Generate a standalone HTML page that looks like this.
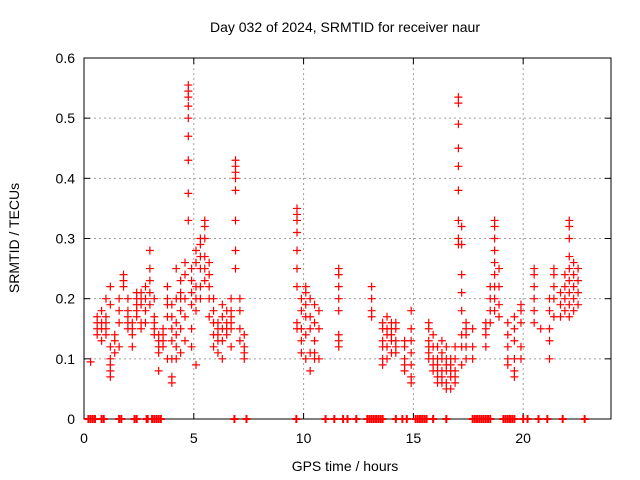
<!DOCTYPE html>
<html><head><meta charset="utf-8"><style>
body{margin:0;background:#fff;}
svg{display:block;font-family:"Liberation Sans",sans-serif;}
</style></head><body>
<svg id="chart" width="640" height="480">
<rect width="640" height="480" fill="#fff"/>
<text x="345" y="32" text-anchor="middle" font-size="14">Day 032 of 2024, SRMTID for receiver naur</text>
<g id="grid"></g>
<g id="axes"></g>
<g id="zeros"></g>
<g id="pts"></g>
<text x="345" y="471" text-anchor="middle" font-size="14">GPS time / hours</text>
<text transform="translate(19,238) rotate(-90)" text-anchor="middle" font-size="14">SRMTID / TECUs</text>
</svg>
<script>
const xTicks=[0,5,10,15,20];
const yTicks=[0,0.1,0.2,0.3,0.4,0.5,0.6];
const yTickLabels=["0","0.1","0.2","0.3","0.4","0.5","0.6"];
const clusterTimes=[0.3,0.6,0.8,1.0,1.2,1.4,1.6,1.8,2.0,2.2,2.4,2.6,2.8,3.0,3.2,3.4,3.6,3.8,4.0,4.2,4.4,4.6,4.75,4.9,5.1,5.3,5.5,5.7,5.9,6.1,6.3,6.5,6.7,6.9,7.1,7.3,9.7,9.9,10.1,10.3,10.5,10.7,11.6,13.1,13.6,13.8,14.0,14.2,14.6,14.9,15.7,15.9,16.1,16.3,16.5,16.7,16.9,17.05,17.2,17.4,17.7,18.3,18.5,18.7,18.9,19.3,19.6,19.9,20.5,20.8,21.2,21.4,21.7,21.9,22.1,22.3,22.5];
const clusterValues=[
[0.095],[0.15,0.16,0.17,0.14],[0.18,0.16,0.15,0.13],[0.17,0.2,0.15,0.14,0.16],[0.22,0.19,0.1,0.09,0.08,0.07,0.12],[0.13,0.11,0.14],[0.2,0.18,0.16,0.12],[0.23,0.24,0.22],[0.15,0.16,0.17,0.18,0.2],[0.14,0.15,0.16,0.12],[0.18,0.19,0.2,0.21,0.17],[0.21,0.2,0.19,0.16,0.15],[0.22,0.2,0.18,0.16],[0.28,0.25,0.23,0.21,0.19],[0.17,0.15,0.14,0.16,0.2],[0.14,0.13,0.12,0.11,0.08],[0.12,0.13,0.15,0.14],[0.2,0.22,0.19,0.17,0.1],[0.19,0.17,0.15,0.13,0.07,0.06,0.1],[0.25,0.2,0.16,0.14,0.12,0.1],[0.23,0.21,0.2,0.18,0.15,0.11],[0.26,0.24,0.2,0.17,0.13],[0.555,0.545,0.535,0.52,0.5,0.47,0.43,0.375,0.33],[0.25,0.23,0.21,0.19,0.15,0.12],[0.28,0.26,0.22,0.2,0.18,0.09],[0.3,0.29,0.27,0.25,0.22,0.2],[0.33,0.32,0.3,0.27,0.25,0.23],[0.26,0.24,0.22,0.2,0.17],[0.2,0.18,0.16,0.14,0.12],[0.16,0.15,0.14,0.13,0.11],[0.19,0.17,0.15,0.13,0.1],[0.18,0.16,0.15,0.14],[0.2,0.18,0.17,0.16,0.15,0.12],[0.43,0.42,0.41,0.4,0.38,0.33,0.28,0.25],[0.2,0.18,0.15,0.13],[0.14,0.12,0.11,0.1],
[0.35,0.34,0.33,0.31,0.28,0.25,0.22,0.16,0.15],[0.2,0.18,0.15,0.13,0.11],[0.22,0.21,0.19,0.17,0.14,0.1],[0.2,0.17,0.15,0.11,0.08],[0.19,0.16,0.13,0.11,0.1],[0.18,0.15,0.1],[0.25,0.24,0.22,0.2,0.18,0.14,0.13,0.12],[0.22,0.2,0.18,0.17],[0.16,0.15,0.13,0.12,0.1,0.09],[0.17,0.15,0.14,0.12,0.1],[0.16,0.15,0.14,0.13,0.11],[0.16,0.15,0.13,0.12,0.11],[0.13,0.12,0.1,0.09,0.08],[0.18,0.15,0.13,0.11,0.09,0.07,0.06],[0.16,0.15,0.13,0.12,0.11,0.1],[0.14,0.12,0.1,0.09,0.08],[0.12,0.1,0.09,0.08,0.07,0.06],[0.13,0.11,0.1,0.08,0.07,0.06],[0.12,0.1,0.09,0.08,0.06,0.05],[0.1,0.09,0.08,0.07,0.05],[0.12,0.1,0.08,0.07,0.06],[0.535,0.525,0.49,0.45,0.42,0.38,0.33,0.3,0.29],[0.32,0.29,0.24,0.21,0.18,0.14,0.12,0.09],[0.16,0.15,0.14,0.12,0.1],[0.15,0.12,0.1],[0.16,0.15,0.14,0.12],[0.22,0.2,0.18,0.16],[0.33,0.32,0.3,0.28,0.26,0.24,0.22,0.2,0.18],[0.25,0.22,0.19,0.17],[0.16,0.14,0.12,0.1,0.09],[0.17,0.15,0.13,0.1,0.08,0.07],[0.19,0.18,0.16,0.12,0.1],[0.25,0.24,0.22,0.2,0.18,0.16],[0.15],[0.2,0.18,0.15,0.13,0.1],[0.25,0.24,0.22,0.2,0.17],[0.21,0.19,0.17],[0.24,0.22,0.2,0.18],[0.33,0.32,0.3,0.27,0.25,0.23,0.21,0.19,0.17],[0.26,0.24,0.22,0.2,0.18],[0.25,0.23,0.21,0.19]];
const zeroTimes=[0.2,0.3,0.4,0.5,0.8,0.9,1.6,1.7,2.3,2.4,2.85,2.9,3.1,3.2,3.3,3.4,3.5,6.85,7.4,9.67,11.0,11.4,11.8,12.0,12.4,12.9,13.0,13.1,13.2,13.3,13.4,13.5,13.6,14.2,14.5,14.7,15.1,15.2,15.3,15.4,15.5,15.6,15.9,16.5,17.7,17.8,17.9,18.0,18.1,18.2,18.3,18.4,18.5,19.1,19.2,19.3,19.4,19.5,19.6,20.0,20.2,20.7,21.1,21.8,22.8];
const L=84,R=611,T=58,B=419,XMAX=24,YMAX=0.6;
const xs=v=>L+v/XMAX*(R-L), ys=v=>B-v/YMAX*(B-T);
const NS="http://www.w3.org/2000/svg";
function mk(tag,attrs,parent){const e=document.createElementNS(NS,tag);for(const k in attrs)e.setAttribute(k,attrs[k]);parent.appendChild(e);return e;}
const grid=document.getElementById('grid'),axes=document.getElementById('axes');
yTicks.forEach((t,i)=>{const y=ys(t);
 if(i>0&&i<yTicks.length-1){const g=mk('line',{x1:L,x2:R,y1:y,y2:y,stroke:'#a0a0a0','stroke-dasharray':'2,3'},grid);}
 mk('line',{x1:L,x2:L+6,y1:y,y2:y,stroke:'#000'},axes);mk('line',{x1:R,x2:R-6,y1:y,y2:y,stroke:'#000'},axes);
 const tx=mk('text',{x:L-9,y:y+5,'text-anchor':'end','font-size':'14'},axes);tx.textContent=yTickLabels[i];
 
 });
xTicks.forEach(t=>{const x=xs(t);
 if(t>0){const g=mk('line',{x1:x,x2:x,y1:T,y2:B,stroke:'#a0a0a0','stroke-dasharray':'2,3'},grid);}
 mk('line',{x1:x,x2:x,y1:B,y2:B-6,stroke:'#000'},axes);mk('line',{x1:x,x2:x,y1:T,y2:T+6,stroke:'#000'},axes);
 const tx=mk('text',{x:x,y:B+24,'text-anchor':'middle','font-size':'14'},axes);tx.textContent=String(t);
 
 });
const box=mk('rect',{x:L,y:T,width:R-L,height:B-T,fill:'none',stroke:'#000'},axes);


function plus(x,y,parent,sw){const p=mk('path',{d:`M${x-4},${y}h8M${x},${y-4}v8`,stroke:'#f00','stroke-width':sw,fill:'none'},parent);return p;}
const pts=document.getElementById('pts');
clusterTimes.forEach((t,i)=>{clusterValues[i].forEach(v=>{const p=plus(xs(t),ys(v),pts,1.2);
 
 });});
const zg=document.getElementById('zeros');
zeroTimes.forEach(t=>{const p=plus(xs(t),ys(0),zg,2);
 
 });
</script>
</body></html>
